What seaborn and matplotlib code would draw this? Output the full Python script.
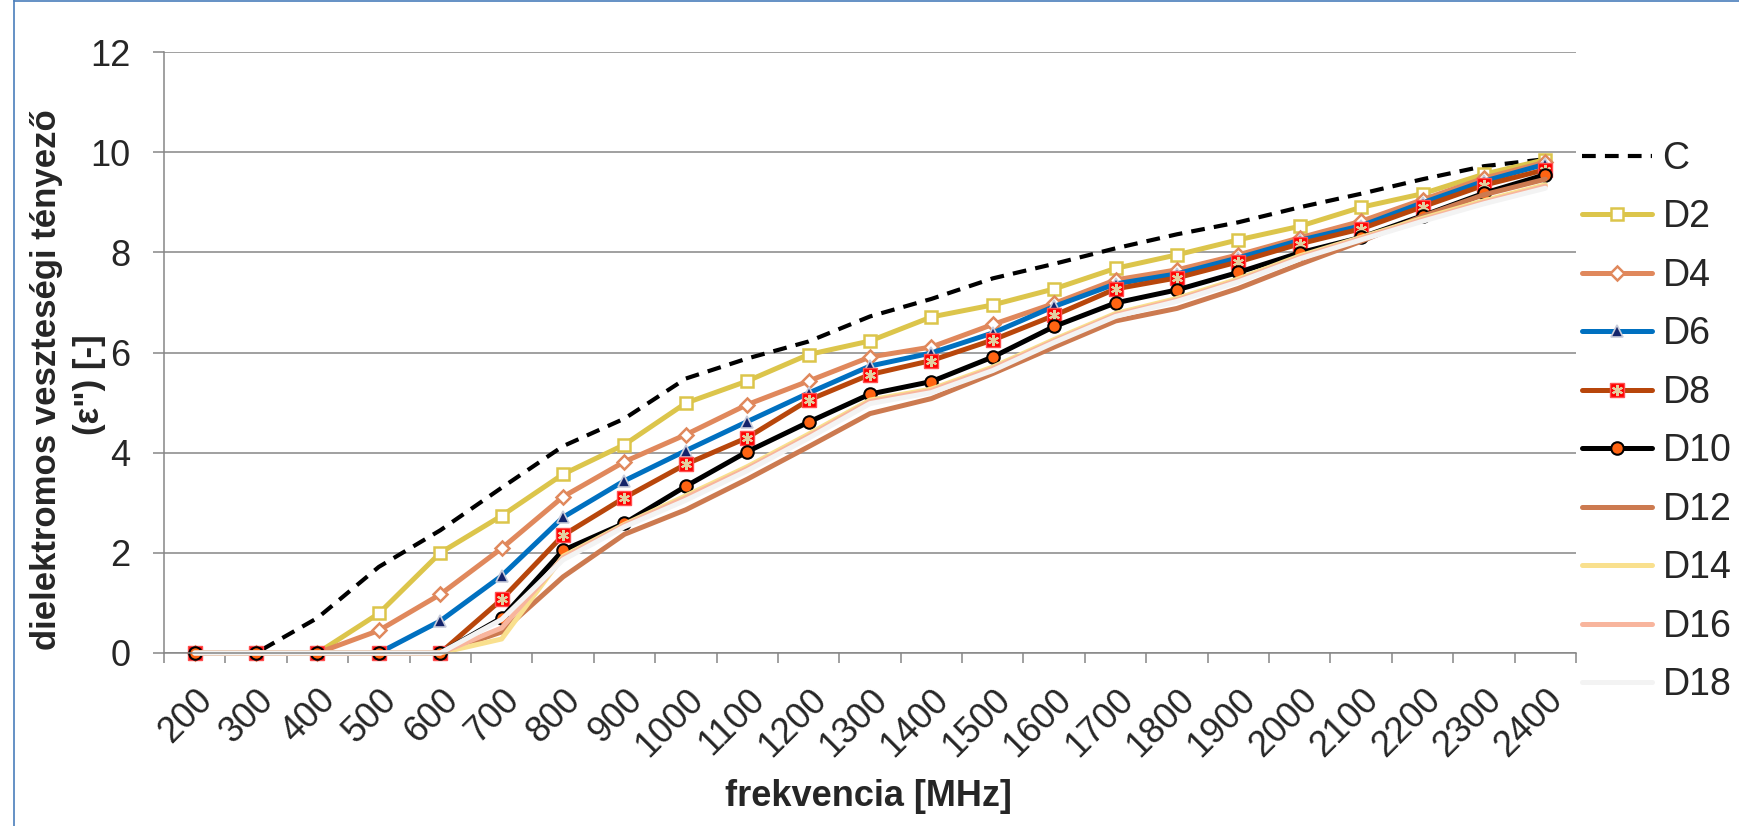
import numpy as np
import matplotlib
matplotlib.use("Agg")
import matplotlib.pyplot as plt
from matplotlib.lines import Line2D
from matplotlib.ticker import FixedLocator
import seaborn as sns

# data
freq = [200, 300, 400, 500, 600, 700, 800, 900, 1000, 1100, 1200, 1300,
        1400, 1500, 1600, 1700, 1800, 1900, 2000, 2100, 2200, 2300, 2400]

c_vals = [0, 0, 0.7, 1.72, 2.45, 3.3, 4.13, 4.68, 5.48, 5.88, 6.22, 6.72,
          7.07, 7.48, 7.77, 8.08, 8.36, 8.6, 8.9, 9.17, 9.46, 9.72, 9.86]
d2 = [0, 0, 0, 0.79, 2.0, 2.74, 3.57, 4.16, 4.99, 5.43, 5.96, 6.23,
      6.71, 6.95, 7.27, 7.68, 7.95, 8.25, 8.52, 8.9, 9.17, 9.56, 9.85]
d4 = [0, 0, 0, 0.45, 1.17, 2.09, 3.12, 3.82, 4.36, 4.96, 5.43, 5.91,
      6.11, 6.56, 6.98, 7.45, 7.65, 7.95, 8.29, 8.62, 9.05, 9.48, 9.8]
d6 = [0, 0, 0, 0, 0.64, 1.54, 2.71, 3.44, 4.04, 4.62, 5.19, 5.73,
      5.99, 6.39, 6.92, 7.37, 7.57, 7.89, 8.24, 8.53, 8.99, 9.42, 9.76]
d8 = [0, 0, 0, 0, 0, 1.07, 2.35, 3.10, 3.77, 4.30, 5.05, 5.56,
      5.84, 6.25, 6.74, 7.27, 7.49, 7.81, 8.17, 8.47, 8.91, 9.34, 9.65]
d10 = [0, 0, 0, 0, 0, 0.7, 2.05, 2.59, 3.33, 4.02, 4.61, 5.17,
       5.42, 5.91, 6.52, 6.99, 7.25, 7.6, 7.99, 8.3, 8.73, 9.18, 9.55]
d12 = [0, 0, 0, 0, 0, 0.42, 1.52, 2.37, 2.86, 3.47, 4.12, 4.78,
       5.08, 5.58, 6.11, 6.63, 6.88, 7.28, 7.76, 8.22, 8.72, 9.15, 9.46]
d14 = [0, 0, 0, 0, 0, 0.28, 1.93, 2.57, 3.14, 3.72, 4.37, 5.05,
       5.27, 5.71, 6.26, 6.78, 7.08, 7.47, 7.93, 8.3, 8.68, 9.03, 9.35]
d16 = [0, 0, 0, 0, 0, 0.5, 1.9, 2.55, 3.1, 3.68, 4.33, 5.02,
       5.24, 5.68, 6.23, 6.75, 7.05, 7.44, 7.9, 8.28, 8.65, 9.0, 9.32]
d18 = [0, 0, 0, 0, 0, 0.67, 1.86, 2.52, 3.05, 3.64, 4.29, 4.98,
       5.2, 5.64, 6.2, 6.72, 7.02, 7.41, 7.87, 8.25, 8.62, 8.97, 9.28]

series = [("C", c_vals), ("D2", d2), ("D4", d4), ("D6", d6), ("D8", d8),
          ("D10", d10), ("D12", d12), ("D14", d14), ("D16", d16), ("D18", d18)]

lw = 3.6
styles = {
    "C": dict(color="black", linewidth=3, linestyle=(0, (3.3, 2.2))),
    "D2": dict(color="#DCC54B", linewidth=lw, marker="s", markersize=8,
               markerfacecolor="white", markeredgecolor="#DCC54B", markeredgewidth=1.8),
    "D4": dict(color="#E0885C", linewidth=lw, marker="D", markersize=7,
               markerfacecolor="white", markeredgecolor="#E0885C", markeredgewidth=1.8),
    "D6": dict(color="#0070C0", linewidth=lw, marker="^", markersize=8.5,
               markerfacecolor="#14246A", markeredgecolor="#C8CCDA", markeredgewidth=1.2),
    "D8": dict(color="#B8460B", linewidth=lw, marker="s", markersize=9.5,
               markerfacecolor="#FF0000", markeredgecolor="#FF5050", markeredgewidth=1),
    "D10": dict(color="black", linewidth=lw, marker="o", markersize=9,
                markerfacecolor="#FF6412", markeredgecolor="black", markeredgewidth=1.5),
    "D12": dict(color="#CC7A50", linewidth=lw),
    "D14": dict(color="#F9E08E", linewidth=lw),
    "D16": dict(color="#F8B59D", linewidth=lw),
    "D18": dict(color="#F3F3F3", linewidth=lw),
}

sns.set_style("white")
plt.rcParams['font.family'] = ['Liberation Sans', 'DejaVu Sans']

fig = plt.figure(figsize=(17.4, 8.26), dpi=100)
ax = fig.add_axes([164 / 1740, 1 - 653 / 826, (1576 - 164) / 1740, (653 - 52) / 826])

pos = np.arange(len(freq))
handles = []
labels = []
for name, vals in series:
    sns.lineplot(x=pos, y=vals, ax=ax, clip_on=False, **styles[name])
    line = ax.lines[-1]
    if name == "D8":
        # asterisk inside the red square
        sns.lineplot(x=pos, y=vals, ax=ax, linestyle="none", marker=(6, 2, 0),
                     markersize=8, color="#E3CFA0", markeredgecolor="#E3CFA0",
                     markeredgewidth=1.5, clip_on=False)
        handles.append((line, ax.lines[-1]))
    else:
        handles.append(line)
    labels.append(name)

ax.set_xlim(-0.5, len(freq) - 0.5)
ax.set_ylim(0, 12)
ax.set_yticks(range(0, 13, 2))
ax.set_xticks(pos)
ax.set_xticklabels([str(f) for f in freq], rotation=45, ha="right", va="top",
                   rotation_mode="anchor", fontsize=26)
ax.xaxis.set_minor_locator(FixedLocator(np.arange(-0.5, len(freq), 1)))
ax.tick_params(axis="x", which="major", length=0, pad=21)
ax.tick_params(axis="x", which="minor", length=7, width=1.1, color="#868686",
               direction="out", bottom=True)
ax.tick_params(axis="y", length=8, width=1.1, color="#868686", pad=16,
               labelsize=26, direction="out", left=True)

ax.yaxis.grid(True, color="#868686", linewidth=1.1)
ax.xaxis.grid(False)
ax.set_axisbelow(True)
for s in ["top", "right"]:
    ax.spines[s].set_visible(False)
for s in ["left", "bottom"]:
    ax.spines[s].set_color("#868686")
    ax.spines[s].set_linewidth(1.1)
ax.set_xlabel("")
ax.set_ylabel("")

fig.text(868 / 1740, 1 - 797 / 826, "frekvencia [MHz]", fontsize=26,
         fontweight="bold", ha="center", va="center")
# y title, two centred lines
fig.text(47 / 1740, 1 - 380 / 826, "dielektromos veszteségi tényező",
         fontsize=25, fontweight="bold", ha="center", va="center", rotation=90)
fig.text(89 / 1740, 1 - 385 / 826, '(ε") [-]',
         fontsize=25, fontweight="bold", ha="center", va="center", rotation=90)

fig.legend(handles, labels, loc="center left",
           bbox_to_anchor=(1582 / 1740, 1 - 422 / 826), frameon=False,
           fontsize=27, handlelength=1.87, handletextpad=0.28, labelspacing=0.6,
           borderpad=0, borderaxespad=0)

# thin blue frame of the chart object
fig.add_artist(Line2D([14.5 / 1740, 14.5 / 1740], [0, 1], color="#4A7EBB",
                      linewidth=1.2, transform=fig.transFigure))
fig.add_artist(Line2D([14.5 / 1740, 1], [1 - 1 / 826, 1 - 1 / 826], color="#4A7EBB",
                      linewidth=1.2, transform=fig.transFigure))

fig.savefig("out.png", dpi=100)
